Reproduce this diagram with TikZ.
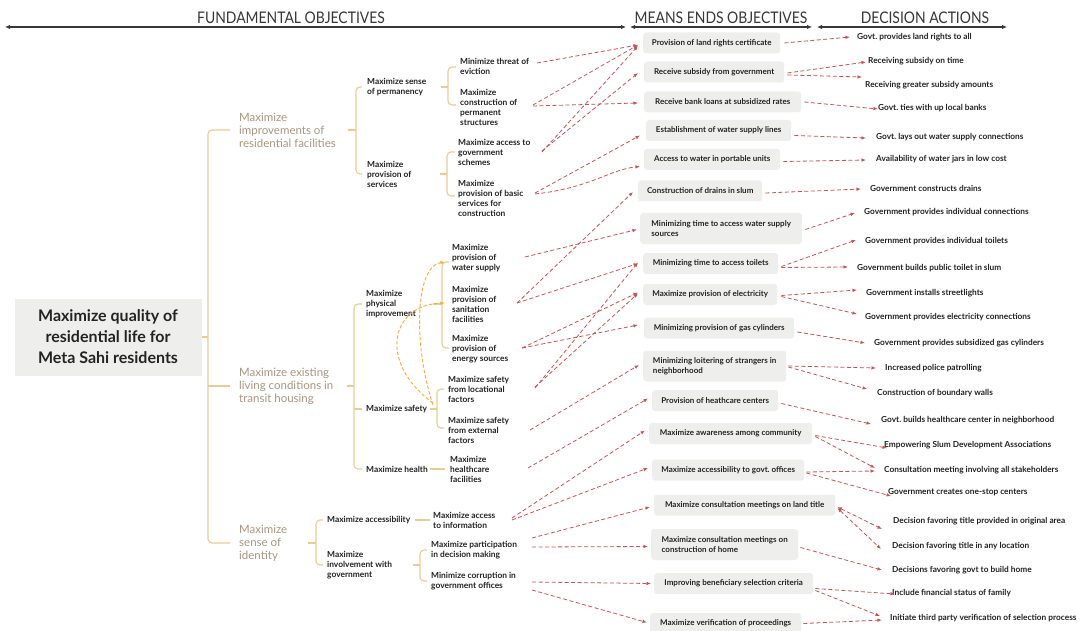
\documentclass[tikz,border=0pt]{standalone}
\usepackage{fontspec}
\setmainfont{Lato}
\usetikzlibrary{arrows.meta}
\definecolor{gold}{RGB}{232,204,148}
\definecolor{tanc}{RGB}{168,150,128}
\definecolor{ared}{RGB}{198,84,84}
\definecolor{aorange}{RGB}{246,172,60}
\definecolor{boxfill}{RGB}{238,239,237}
\definecolor{txt}{RGB}{35,35,35}
\definecolor{hdr}{RGB}{55,55,55}
\begin{document}
\begin{tikzpicture}[x=1pt,y=-1pt,
 rootbox/.style={fill=boxfill, font=\bfseries\fontsize{16}{21}\selectfont, align=center, text=txt, minimum width=187pt, minimum height=77pt, inner sep=0},
 lvla/.style={anchor=west, inner sep=0, align=left, text=tanc, font=\fontsize{11.5}{13}\selectfont},
 lvlb/.style={anchor=west, inner sep=0, align=left, text=txt, font=\bfseries\fontsize{8.4}{10}\selectfont},
 mbox/.style={anchor=west, fill=boxfill, rounded corners=3pt, inner xsep=5pt, inner ysep=0pt, align=left, text=txt, font=\bfseries\fontsize{8.0}{10}\selectfont, minimum height=21pt},
 dact/.style={anchor=west, inner sep=0, text=txt, font=\bfseries\fontsize{8.3}{10}\selectfont},
 hdrtxt/.style={inner sep=0, text=hdr, font=\fontsize{16}{18}\selectfont},
 hline/.style={draw=hdr, line width=1.1pt, {Latex[length=5pt,width=4.5pt]}-{Latex[length=5pt,width=4.5pt]}},
 brk/.style={draw=gold, line width=1.1pt, rounded corners=4pt},
 ra/.style={draw=ared, line width=0.8pt, dash pattern=on 4pt off 2.5pt, -{Latex[length=4.5pt,width=3.5pt]}},
 rab/.style={draw=ared, line width=0.8pt, dash pattern=on 4pt off 2.5pt, {Latex[length=4.5pt,width=3.5pt]}-{Latex[length=4.5pt,width=3.5pt]}},
 oa/.style={draw=aorange, line width=0.9pt, dash pattern=on 3.5pt off 2pt, -{Latex[length=4.5pt,width=3.5pt]}}
]
\useasboundingbox[fill=white] (0,0) rectangle (1084,631);

% header
\node[hdrtxt] (T1) at (291,18) {\scalebox{0.87}[1]{FUNDAMENTAL OBJECTIVES}};
\node[hdrtxt] (T2) at (721,18) {\scalebox{0.87}[1]{MEANS ENDS OBJECTIVES}};
\node[hdrtxt] (T3) at (925,18) {\scalebox{0.87}[1]{DECISION ACTIONS}};
\coordinate (h1) at (5,27);
\coordinate (h2) at (626,27);
\coordinate (h3) at (630,27);
\coordinate (h4) at (812,27);
\coordinate (h5) at (817,27);
\coordinate (h6) at (1007,27);
\draw[hline] (h1) -- (h2);
\draw[hline] (h3) -- (h4);
\draw[hline] (h5) -- (h6);

% root
\node[rootbox] (R) at (108,337) {Maximize quality of\\residential life for\\Meta Sahi residents};

% level A
\node[lvla] (A1) at (239,130) {Maximize\\improvements of\\residential facilities};
\node[lvla] (A2) at (239,386) {Maximize existing\\living conditions in\\transit housing};
\node[lvla] (A3) at (239,543) {Maximize\\sense of\\identity};

% level B
\node[lvlb] (B1) at (367,87) {Maximize sense\\of permanency};
\node[lvlb] (B2) at (367,174) {Maximize\\provision of\\services};
\node[lvlb] (B3) at (366,304) {Maximize\\physical\\improvement};
\node[lvlb] (B4) at (366,409) {Maximize safety};
\node[lvlb] (B5) at (366,469) {Maximize health};
\node[lvlb] (B6) at (327,520) {Maximize accessibility};
\node[lvlb] (B7) at (327,565) {Maximize\\involvement with\\government};

% level E
\node[lvlb] (E1) at (460,66) {Minimize threat of\\eviction};
\node[lvlb] (E2) at (460,107) {Maximize\\construction of\\permanent\\structures};
\node[lvlb] (E3) at (458,152) {Maximize access to\\government\\schemes};
\node[lvlb] (E4) at (458,198) {Maximize\\provision of basic\\services for\\construction};
\node[lvlb] (E5) at (452,258) {Maximize\\provision of\\water supply};
\node[lvlb] (E6) at (452,304) {Maximize\\provision of\\sanitation\\facilities};
\node[lvlb] (E7) at (452,349) {Maximize\\provision of\\energy sources};
\node[lvlb] (E8) at (448,389) {Maximize safety\\from locational\\factors};
\node[lvlb] (E9) at (448,430) {Maximize safety\\from external\\factors};
\node[lvlb] (E10) at (450,469) {Maximize\\healthcare\\facilities};
\node[lvlb] (E11) at (433,520) {Maximize access\\to information};
\node[lvlb] (E12) at (431,550) {Maximize participation\\in decision making};
\node[lvlb] (E13) at (431,581) {Minimize corruption in\\government offices};

% brackets
\draw[brk] (202,337) -- (208,337);
\draw[brk] (230,130) -| (208,543) -- (230,543);
\draw[brk] (208,386) -- (230,386);
\draw[brk] (348,130) -- (356,130);
\draw[brk] (362,87) -| (356,174) -- (362,174);
\draw[brk] (441,87) -- (448,87);
\draw[brk] (456,67) -| (448,105) -- (456,105);
\draw[brk] (440,174) -- (447,174);
\draw[brk] (455,152) -| (447,196) -- (455,196);
\draw[brk] (347,386) -- (354,386);
\draw[brk] (362,304) -| (354,469) -- (362,469);
\draw[brk] (354,409) -- (362,409);
\draw[brk] (433,304) -- (442,304);
\draw[brk] (449,262) -| (442,348) -- (449,348);
\draw[brk] (430,409) -- (437,409);
\draw[brk] (444,389) -| (437,428) -- (444,428);
\draw[brk] (430,469) -- (445,469);
\draw[brk] (308,543) -- (316,543);
\draw[brk] (323,520) -| (316,565) -- (323,565);
\draw[brk] (415,520) -- (430,520);
\draw[brk] (413,565) -- (420,565);
\draw[brk] (427,550) -| (420,581) -- (427,581);

% means boxes
\node[mbox, minimum width=137pt] (M1) at (643,43) {Provision of land rights certificate};
\node[mbox, minimum width=140pt] (M2) at (644,72) {Receive subsidy from government};
\node[mbox, minimum width=157pt] (M3) at (644,102) {Receive bank loans at subsidized rates};
\node[mbox, minimum width=145pt] (M4) at (646,130.5) {Establishment of water supply lines};
\node[mbox, minimum width=136pt] (M5) at (644,159.5) {Access to water in portable units};
\node[mbox, minimum width=124pt] (M6) at (638,191) {Construction of drains in slum};
\node[mbox, minimum width=162pt, minimum height=31pt] (M7) at (640,228.5) {Minimizing time to access water supply\\sources};
\node[mbox, minimum width=135pt] (M8) at (643,263.5) {Minimizing time to access toilets};
\node[mbox, minimum width=134pt] (M9) at (643,294.5) {Maximize provision of electricity};
\node[mbox, minimum width=150pt] (M10) at (644,328) {Minimizing provision of gas cylinders};
\node[mbox, minimum width=143pt, minimum height=31pt] (M11) at (643,366) {Minimizing loitering of strangers in\\neighborhood};
\node[mbox, minimum width=126pt] (M12) at (652,400.5) {Provision of heathcare centers};
\node[mbox, minimum width=163pt] (M13) at (649,433.5) {Maximize awareness among community};
\node[mbox, minimum width=152pt] (M14) at (652,470) {Maximize accessibility to govt.\ offices};
\node[mbox, minimum width=181pt] (M15) at (654,505) {Maximize consultation meetings on land title};
\node[mbox, minimum width=147pt, minimum height=31pt] (M16) at (651,544.5) {Maximize consultation meetings on\\construction of home};
\node[mbox, minimum width=159pt] (M17) at (654,583.5) {Improving beneficiary selection criteria};
\node[mbox, minimum width=151pt] (M18) at (650,623.5) {Maximize verification of proceedings};

% decision actions
\node[dact] (D1) at (857,37) {Govt.\ provides land rights to all};
\node[dact] (D2) at (868,61) {Receiving subsidy on time};
\node[dact] (D3) at (865,85) {Receiving greater subsidy amounts};
\node[dact] (D4) at (878,108) {Govt.\ ties with up local banks};
\node[dact] (D5) at (876,137) {Govt.\ lays out water supply connections};
\node[dact] (D6) at (876,159) {Availability of water jars in low cost};
\node[dact] (D7) at (870,188) {Government constructs drains};
\node[dact] (D8) at (864,212) {Government provides individual connections};
\node[dact] (D9) at (865,241) {Government provides individual toilets};
\node[dact] (D10) at (857,268) {Government builds public toilet in slum};
\node[dact] (D11) at (866,293) {Government installs streetlights};
\node[dact] (D12) at (865,317) {Government provides electricity connections};
\node[dact] (D13) at (874,343) {Government provides subsidized gas cylinders};
\node[dact] (D14) at (885,368) {Increased police patrolling};
\node[dact] (D15) at (877,393) {Construction of boundary walls};
\node[dact] (D16) at (881,420) {Govt.\ builds healthcare center in neighborhood};
\node[dact] (D17) at (884,445) {Empowering Slum Development Associations};
\node[dact] (D18) at (884,470) {Consultation meeting involving all stakeholders};
\node[dact] (D19) at (888,492) {Government creates one-stop centers};
\node[dact] (D20) at (893,521) {Decision favoring title provided in original area};
\node[dact] (D21) at (892,546) {Decision favoring title in any location};
\node[dact] (D22) at (892,570) {Decisions favoring govt to build home};
\node[dact] (D23) at (892,593) {Include financial status of family};
\node[dact] (D24) at (890,618) {Initiate third party verification of selection process};

% left arrows
\draw[ra] ([shift={(77,-3)}]E1.west) -- ([shift={(-5,2)}]M1.west);
\draw[ra] ([shift={(73,-2)}]E2.west) -- ([shift={(-5,2)}]M1.west);
\draw[ra] ([shift={(73,-1)}]E2.west) -- ([shift={(-6,1)}]M3.west);
\draw[ra] ([shift={(84,0)}]E3.west) -- ([shift={(-5,3)}]M1.west);
\draw[ra] ([shift={(84,-1)}]E3.west) -- ([shift={(-6,1)}]M2.west);
\draw[ra] ([shift={(77,-5)}]E4.west) -- ([shift={(-6,5)}]M4.west);
\draw[ra] ([shift={(77,-4)}]E4.west) .. controls +(55,-6) and +(-30,3) .. ([shift={(-4,7)}]M5.west);
\draw[ra] ([shift={(73,-1)}]E5.west) -- ([shift={(-3,1)}]M7.west);
\draw[ra] ([shift={(65,-1)}]E6.west) -- ([shift={(-5,1)}]M6.west);
\draw[ra] ([shift={(65,-1)}]E6.west) -- ([shift={(-5,0)}]M8.west);
\draw[ra] ([shift={(70,-1)}]E7.west) -- ([shift={(-5,-2)}]M9.west);
\draw[ra] ([shift={(70,-1)}]E7.west) -- ([shift={(-6,-3)}]M10.west);
\draw[ra] ([shift={(87,-1)}]E8.west) -- ([shift={(-5,-1)}]M8.west);
\draw[ra] ([shift={(87,-2)}]E8.west) -- ([shift={(-5,-1)}]M9.west);
\draw[ra] ([shift={(82,0)}]E9.west) -- ([shift={(-4,-1)}]M11.west);
\draw[ra] ([shift={(78,-1)}]E10.west) -- ([shift={(-4,-2)}]M12.west);
\draw[ra] ([shift={(79,-2)}]E11.west) -- ([shift={(-4,-3)}]M13.west);
\draw[ra] ([shift={(79,0)}]E11.west) -- ([shift={(-4,-2)}]M14.west);
\draw[ra] ([shift={(101,-12)}]E12.west) -- ([shift={(-4,2)}]M15.west);
\draw[ra] ([shift={(101,-3)}]E12.west) -- ([shift={(-3,2)}]M16.west);
\draw[ra] ([shift={(101,1)}]E13.west) -- ([shift={(-3,0)}]M17.west);
\draw[ra] ([shift={(101,9)}]E13.west) -- ([shift={(-3,-1)}]M18.west);

% orange arrows
\draw[oa] ([shift={(67,-4)}]B4.west) .. controls +(-20,-60) and +(-30,4) .. ([shift={(-7,4)}]E5.west);
\draw[oa] ([shift={(67,-6)}]B4.west) .. controls +(-55,-40) and +(-55,2) .. ([shift={(-7,-1)}]E6.west);

% right arrows
\draw[ra] ([shift={(4,0)}]M1.east) -- ([shift={(-7,0)}]D1.west);
\draw[ra] ([shift={(3,1)}]M2.east) -- ([shift={(-2,1)}]D2.west);
\draw[ra] ([shift={(3,3)}]M2.east) -- ([shift={(-3,-8)}]D3.west);
\draw[ra] ([shift={(3,0)}]M3.east) -- ([shift={(0,1)}]D4.west);
\draw[ra] ([shift={(3,5)}]M4.east) -- ([shift={(-10,1)}]D5.west);
\draw[ra] ([shift={(3,2)}]M5.east) -- ([shift={(-10,1)}]D6.west);
\draw[ra] ([shift={(3,2)}]M6.east) -- ([shift={(-9,1)}]D7.west);
\draw[ra] ([shift={(3,1)}]M7.east) -- ([shift={(-9,1)}]D8.west);
\draw[ra] ([shift={(3,3)}]M8.east) -- ([shift={(-9,-1)}]D9.west);
\draw[ra] ([shift={(3,4)}]M8.east) -- ([shift={(-9,-1)}]D10.west);
\draw[ra] ([shift={(4,1)}]M9.east) -- ([shift={(-9,-3)}]D11.west);
\draw[ra] ([shift={(4,2)}]M9.east) -- ([shift={(-8,-3)}]D12.west);
\draw[ra] ([shift={(3,4)}]M10.east) -- ([shift={(-9,0)}]D13.west);
\draw[ra] ([shift={(2,0)}]M11.east) -- ([shift={(-9,0)}]D14.west);
\draw[ra] ([shift={(2,1)}]M11.east) -- ([shift={(-10,-4)}]D15.west);
\draw[ra] ([shift={(3,3)}]M12.east) -- ([shift={(-10,4)}]D16.west);
\draw[ra] ([shift={(3,2)}]M13.east) -- ([shift={(3,3)}]D17.west);
\draw[ra] ([shift={(3,3)}]M13.east) -- ([shift={(-9,-2)}]D18.west);
\draw[ra] ([shift={(2,2)}]M14.east) -- ([shift={(-9,1)}]D18.west);
\draw[ra] ([shift={(2,3)}]M14.east) -- ([shift={(3,4)}]D19.west);
\draw[rab] ([shift={(2,2)}]M15.east) -- ([shift={(-11,8)}]D20.west);
\draw[rab] ([shift={(2,3)}]M15.east) -- ([shift={(-11,3)}]D21.west);
\draw[ra] ([shift={(2,3)}]M16.east) -- ([shift={(-10,0)}]D22.west);
\draw[ra] ([shift={(2,5)}]M17.east) -- ([shift={(3,1)}]D23.west);
\draw[ra] ([shift={(2,7)}]M17.east) -- ([shift={(-10,-2)}]D24.west);
\draw[ra] ([shift={(2,0)}]M18.east) -- ([shift={(-8,2)}]D24.west);
\end{tikzpicture}
\end{document}
